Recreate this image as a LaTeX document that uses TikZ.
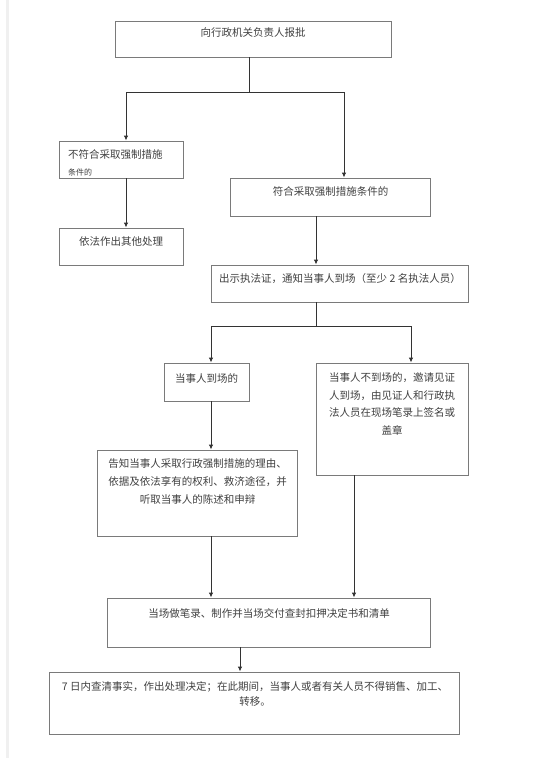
\documentclass[tikz,border=0pt]{standalone}
\usepackage{fontspec}
\newfontfamily\cjk{Noto Sans CJK SC}
\usetikzlibrary{arrows.meta,calc}
\definecolor{boxc}{HTML}{7A7A7A}
\definecolor{linec}{HTML}{333333}
\definecolor{txtc}{HTML}{404040}
\tikzset{
  box/.style={draw=boxc, line width=0.9pt, inner sep=0pt},
  txt/.style={text=txtc, font=\cjk\fontsize{10.5}{17.5}\selectfont, inner sep=0pt},
  arr/.style={draw=linec, line width=0.9pt, -{Latex[length=5pt,width=4.5pt]}},
  ln/.style={draw=linec, line width=0.9pt}
}
\begin{document}
\begin{tikzpicture}[x=1pt,y=-1pt]
\useasboundingbox (0,0) rectangle (554,758);
\fill[white] (0,0) rectangle (554,758);
\draw[gray!12, line width=2.5pt] (7.5,0) -- (7.5,758);

% boxes
\node[box, minimum width=276pt, minimum height=36pt] (top) at (253,39) {};
\node[txt] (ttop) at (253,33) {向行政机关负责人报批};

\node[box, minimum width=124pt, minimum height=37pt] (n1) at (121,159.5) {};
\node[txt, anchor=north west, align=left] (t1) at (68,149.5) {不符合采取强制措施\\[-0.5pt]{\fontsize{8}{10}\selectfont 条件的}};

\node[box, minimum width=124pt, minimum height=37pt] (n2) at (121,246.5) {};
\node[txt] (t2) at (121,242) {依法作出其他处理};

\node[box, minimum width=200pt, minimum height=38pt] (n3) at (330,197) {};
\node[txt] (t3) at (330.5,192) {符合采取强制措施条件的};

\node[box, minimum width=257pt, minimum height=37pt] (n4) at (339.5,283.5) {};
\node[txt] (t4) at (340,279) {出示执法证，通知当事人到场（至少 2 名执法人员）};

\node[box, minimum width=85pt, minimum height=38pt] (n5) at (206.5,382) {};
\node[txt] (t5) at (206.5,378) {当事人到场的};

\node[box, minimum width=152pt, minimum height=112pt] (n6) at (392,419) {};
\node[txt, anchor=north, align=center] (t6) at (392,372.5) {当事人不到场的，邀请见证\\人到场，由见证人和行政执\\法人员在现场笔录上签名或\\盖章};

\node[box, minimum width=200pt, minimum height=86pt] (n7) at (197,493) {};
\node[txt, anchor=north, align=center, font=\cjk\fontsize{10.5}{18}\selectfont] (t7) at (197.5,458.5) {告知当事人采取行政强制措施的理由、\\依据及依法享有的权利、救济途径，并\\听取当事人的陈述和申辩};

\node[box, minimum width=323pt, minimum height=49pt] (n8) at (268.5,622.5) {};
\node[txt] (t8) at (269,613) {当场做笔录、制作并当场交付查封扣押决定书和清单};

\node[box, minimum width=410pt, minimum height=62pt] (n9) at (254,703) {};
\node[txt, anchor=north, align=center, font=\cjk\fontsize{10.5}{15}\selectfont] (t9) at (255,681.5) {7 日内查清事实，作出处理决定；在此期间，当事人或者有关人员不得销售、加工、\\转移。};

% junction coordinates
\coordinate (j1) at (249,92);
\coordinate (ja) at (126,92);
\coordinate (jb) at (344,92);
\coordinate (k1) at (316,326);
\coordinate (kl) at (211,326);
\coordinate (kr) at (411,326);
\coordinate (mr) at (354,560);
\coordinate (mb) at (240,660);

% connectors
\draw[ln] (top.south -| j1) -- (j1);
\draw[ln] (ja) -- (jb);
\draw[arr] (ja) -- (n1.north -| ja);
\draw[arr] (jb) -- (n3.north -| jb);
\draw[arr] (n1.south -| ja) -- (n2.north -| ja);
\draw[arr] (n3.south -| k1) -- (n4.north -| k1);
\draw[ln] (n4.south -| k1) -- (k1);
\draw[ln] (kl) -- (kr);
\draw[arr] (kl) -- (n5.north -| kl);
\draw[arr] (kr) -- (n6.north -| kr);
\draw[arr] (n5.south -| kl) -- (n7.north -| kl);
\draw[arr] (n7.south -| kl) -- (n8.north -| kl);
\draw[arr] (n6.south -| mr) -- (n8.north -| mr);
\draw[arr] (n8.south -| mb) -- (n9.north -| mb);
\end{tikzpicture}
\end{document}
